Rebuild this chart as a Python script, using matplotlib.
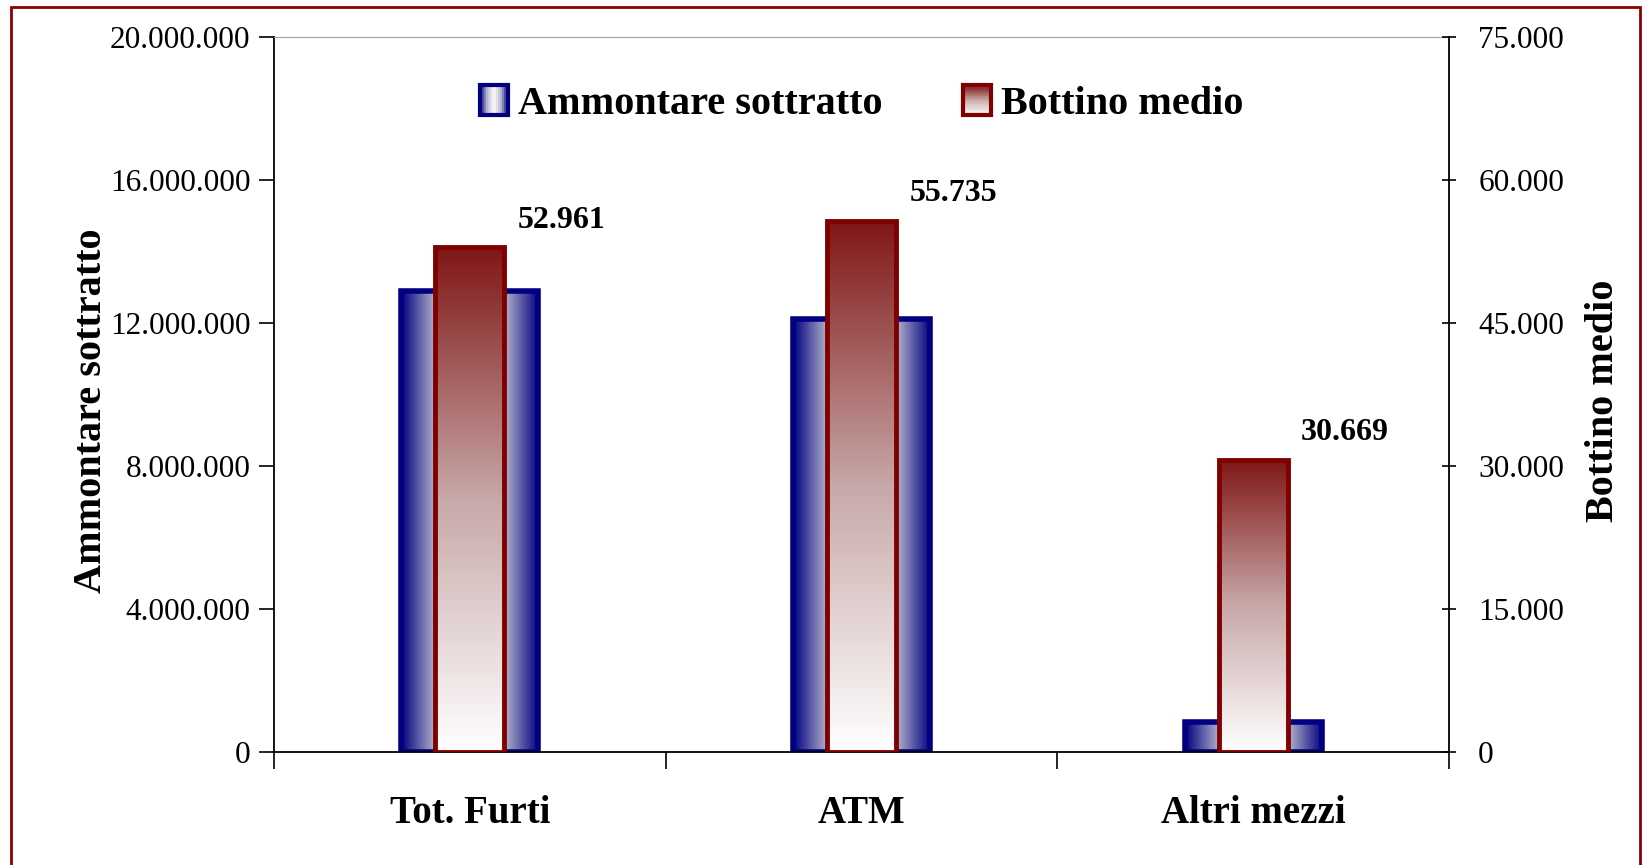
import numpy as np
import matplotlib
matplotlib.use("Agg")
import matplotlib.pyplot as plt
from matplotlib.patches import Rectangle
from matplotlib.colors import LinearSegmentedColormap
from matplotlib.legend_handler import HandlerBase
from matplotlib.ticker import FuncFormatter

# dati
categorie = ["Tot. Furti", "ATM", "Altri mezzi"]
ammontare = [12900000, 12100000, 850000]
bottino = [52961, 55735, 30669]
etichette_bottino = ["52.961", "55.735", "30.669"]

plt.rcParams['font.family'] = ['Liberation Serif', 'DejaVu Serif']

blu = LinearSegmentedColormap.from_list("blu", ["#000080", "#b4b4cc", "#ffffff", "#b4b4cc", "#000080"])
rosso = LinearSegmentedColormap.from_list("rosso", ["#ffffff", "#c8a8a8", "#801616"])


def sfuma(ax, barre, cmap, orizzontale):
    # riempie ogni barra con un gradiente
    for b in barre:
        x0, y0 = b.get_x(), b.get_y()
        w, h = b.get_width(), b.get_height()
        if orizzontale:
            grad = np.linspace(0, 1, 256).reshape(1, -1)
        else:
            grad = np.linspace(0, 1, 256).reshape(-1, 1)
        img = ax.imshow(grad, cmap=cmap, extent=(x0, x0 + w, y0, y0 + h),
                        origin='lower', aspect='auto', zorder=b.get_zorder() - 0.1)
        img.set_clip_path(b)


class Sfumato(HandlerBase):
    def __init__(self, cmap, orizzontale, bordo):
        super().__init__()
        self.cmap = cmap
        self.orizzontale = orizzontale
        self.bordo = bordo

    def create_artists(self, legend, orig_handle, xdescent, ydescent, width, height, fontsize, trans):
        arts = []
        n = 14
        for i in range(n):
            t = (i + 0.5) / n
            if self.orizzontale:
                r = Rectangle((-xdescent + i * width / n, -ydescent), width / n, height,
                              facecolor=self.cmap(t), edgecolor='none', transform=trans)
            else:
                r = Rectangle((-xdescent, -ydescent + i * height / n), width, height / n,
                              facecolor=self.cmap(t), edgecolor='none', transform=trans)
            arts.append(r)
        arts.append(Rectangle((-xdescent, -ydescent), width, height, facecolor='none',
                              edgecolor=self.bordo, lw=3, transform=trans))
        return arts


fig = plt.figure(figsize=(16.43, 8.65), dpi=100)
ax1 = fig.add_axes([0.1668, 0.1306, 0.7151, 0.8266])
ax2 = ax1.twinx()

x = np.arange(len(categorie))
b1 = ax1.bar(x, ammontare, width=0.35, facecolor='none', edgecolor='#000080', linewidth=4, zorder=2)
b2 = ax2.bar(x, bottino, width=0.176, facecolor='none', edgecolor='#800000', linewidth=3.5, zorder=2)
sfuma(ax1, b1, blu, True)
sfuma(ax2, b2, rosso, False)

for xi, v, t in zip(x, bottino, etichette_bottino):
    ax2.annotate(t, (xi + 0.235, v), xytext=(0, 9), textcoords='offset points',
                 ha='center', va='bottom', fontsize=23, fontweight='bold')

ax1.set_xlim(-0.5, 2.5)
ax1.set_ylim(0, 20000000)
ax2.set_ylim(0, 75000)
ax1.set_yticks(np.arange(0, 20000001, 4000000))
ax2.set_yticks(np.arange(0, 75001, 15000))

fmt = FuncFormatter(lambda v, p: f"{int(v):,}".replace(",", "."))
ax1.yaxis.set_major_formatter(fmt)
ax2.yaxis.set_major_formatter(fmt)

ax1.set_xticks([-0.5, 0.5, 1.5, 2.5])
ax1.set_xticklabels([])
ax1.set_xticks(x, minor=True)
ax1.set_xticklabels(categorie, minor=True, fontsize=28, fontweight='bold')
ax1.tick_params(axis='x', which='major', length=12, width=1.2, direction='out')
ax1.tick_params(axis='x', which='minor', length=0, pad=31)
ax1.tick_params(axis='y', length=11, width=1.2, direction='out', labelsize=22.5, pad=6)
ax2.tick_params(axis='y', length=10, width=1.2, direction='inout', labelsize=22.5, pad=16)

for s in ['left', 'bottom']:
    ax1.spines[s].set_linewidth(1.3)
ax1.spines['top'].set_color('#a0a0a0')
ax1.spines['right'].set_visible(False)
for s in ['left', 'top', 'bottom']:
    ax2.spines[s].set_visible(False)
ax2.spines['right'].set_linewidth(1.3)

ax1.set_ylabel("Ammontare sottratto", fontsize=29, fontweight='bold')
ax1.yaxis.set_label_coords(-0.1396, 0.477)
ax2.set_ylabel("Bottino medio", fontsize=29, fontweight='bold', rotation=90)
ax2.yaxis.set_label_coords(1.1157, 0.491)
ax2.yaxis.label.set_va('top')

ax2.legend([b1, b2], ["Ammontare sottratto", "Bottino medio"],
           handler_map={b1: Sfumato(blu, True, '#000080'), b2: Sfumato(rosso, False, '#800000')},
           ncol=2, frameon=False, loc='center', bbox_to_anchor=(0.5, 0.906),
           prop={'weight': 'bold', 'size': 29}, handlelength=0.7, handleheight=0.75,
           handletextpad=0.25, columnspacing=2.0)

# cornice esterna
fig.patches.append(Rectangle((11 / 1643, -0.01), 1629 / 1643, 1 - 7 / 865 + 0.01,
                             transform=fig.transFigure, fill=False, edgecolor='#8b0000', linewidth=2))

fig.savefig("out.png", dpi=100)
